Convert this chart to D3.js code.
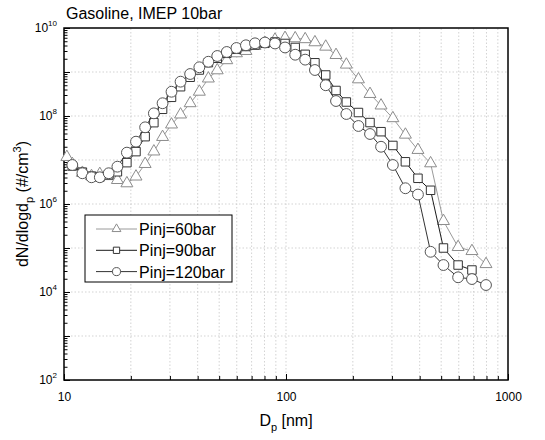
<!DOCTYPE html>
<html>
<head>
<meta charset="utf-8">
<script src="https://cdn.jsdelivr.net/npm/d3@7/dist/d3.min.js"></script>
<style>
  body { margin: 0; background: #fff; }
  svg { font-family: Arial, "Liberation Sans", sans-serif; }
</style>
</head>
<body>
<div id="chart"></div>
<script>
// particle diameter bins [nm]
const diameters = [10.3, 10.9, 12.1, 13.3, 14.5, 15.9, 17.4, 19.2, 21.1, 23.2, 25.4, 27.8, 30.5, 33.5,
  37.0, 40.7, 44.7, 49.0, 54.1, 59.8, 66.0, 72.5, 80.4, 89.2, 99.0, 110, 122, 135, 151, 168, 187,
  212, 239, 268, 303, 345, 393, 448, 512, 596, 688, 796];

// dN/dlogDp [#/cm3]
const pinj60 = [1.17e7, 8.1e6, 5.1e6, 4.3e6, 4.8e6, 4.3e6, 3.5e6, 2.95e6, 4.2e6, 8.1e6, 1.56e7, 3.33e7,
  6.4e7, 1.08e8, 1.95e8, 3.56e8, 7.1e8, 1.09e9, 1.85e9, 2.66e9, 3.0e9, 3.9e9, 4.56e9, 5.42e9, 5.93e9,
  5.83e9, 5.56e9, 4.73e9, 3.76e9, 2.43e9, 1.47e9, 6.8e8, 3.16e8, 1.73e8, 8.9e7, 3.76e7, 1.69e7, 8.4e6,
  4.1e5, 1.05e5, 8.5e4, 4.3e4];
const pinj90 = [null, 7.3e6, 5.3e6, 4.3e6, 4.1e6, 4.6e6, 5.4e6, 8.7e6, 1.55e7, 3.39e7, 7.05e7, 1.42e8,
  2.66e8, 4.63e8, 7.6e8, 1.11e9, 1.63e9, 2.05e9, 2.66e9, 3.28e9, 3.8e9, 4.11e9, 4.49e9, 4.81e9, 4.45e9,
  3.61e9, 2.52e9, 1.62e9, 8.55e8, 3.8e8, 2.08e8, 1.2e8, 7.1e7, 4.4e7, 2.14e7, 9.1e6, 3.84e6, 2.05e6,
  1.0e5, 4.1e4, 3.16e4, null];
const pinj120 = [null, 7.7e6, 5.0e6, 4.05e6, 4.05e6, 5.0e6, 7.05e6, 1.47e7, 2.61e7, 5.53e7, 1.15e8, 1.95e8,
  3.56e8, 6.03e8, 9.0e8, 1.28e9, 1.71e9, 2.31e9, 2.85e9, 3.51e9, 4.05e9, 4.49e9, 4.68e9, 4.45e9, 3.61e9,
  2.47e9, 1.91e9, 1.11e9, 5.0e8, 2.19e8, 1.11e8, 5.93e7, 3.9e7, 2.0e7, 7.7e6, 2.28e6, 1.64e6, 8.2e4,
  4.1e4, 2.16e4, 1.97e4, 1.44e4];

const seriesNames = ['Pinj=60bar', 'Pinj=90bar', 'Pinj=120bar'];
const xMajor = [10, 100, 1000];
const yExponents = [2, 3, 4, 5, 6, 7, 8, 9, 10];

const width = 545, height = 440;
const margin = { top: 28, right: 37, bottom: 60, left: 64 };

const svg = d3.select('#chart').append('svg')
  .attr('width', width)
  .attr('height', height);

const x = d3.scaleLog().domain([10, 1000]).range([margin.left, width - margin.right]);
const y = d3.scaleLog().domain([1e2, 1e10]).range([height - margin.bottom, margin.top]);

const xMinor = [];
[10, 100].forEach(b => { for (let k = 2; k <= 9; k++) xMinor.push(b * k); });
const yMajor = yExponents.map(e => Math.pow(10, e));
const yMinor = [];
yExponents.slice(0, -1).forEach(e => { for (let k = 2; k <= 9; k++) yMinor.push(k * Math.pow(10, e)); });

// grid
const grid = svg.append('g').attr('stroke', '#c8c8c8').attr('stroke-width', 0.8).attr('stroke-dasharray', '1.5,2');
grid.selectAll('line.vx')
  .data(xMinor.concat([100]))
  .join('line')
  .attr('x1', d => x(d)).attr('x2', d => x(d))
  .attr('y1', y.range()[0]).attr('y2', y.range()[1]);
grid.selectAll('line.hy')
  .data(yMajor.slice(1, -1))
  .join('line')
  .attr('y1', d => y(d)).attr('y2', d => y(d))
  .attr('x1', x.range()[0]).attr('x2', x.range()[1]);

// axes
const xAxisG = svg.append('g').attr('transform', `translate(0,${y.range()[0]})`);
xAxisG.call(d3.axisBottom(x).tickValues(xMajor).tickSize(-6).tickPadding(12).tickFormat(d3.format('d')));
xAxisG.append('g').call(d3.axisBottom(x).tickValues(xMinor).tickSize(-4).tickFormat(''));

const yAxisG = svg.append('g').attr('transform', `translate(${x.range()[0]},0)`);
yAxisG.call(d3.axisLeft(y).tickValues(yMajor).tickSize(-6).tickFormat(''));
yAxisG.append('g').call(d3.axisLeft(y).tickValues(yMinor).tickSize(-3.5).tickFormat(''));

svg.selectAll('.domain').remove();
svg.selectAll('.tick line').attr('stroke', '#000').attr('stroke-width', 1);
xAxisG.selectAll('.tick text').attr('font-size', 12).attr('fill', '#000');

// y labels with superscripts, only even powers
yAxisG.selectAll('.y-label')
  .data(yExponents.filter(e => e % 2 === 0))
  .join('text')
  .attr('class', 'y-label')
  .attr('x', -7)
  .attr('y', e => y(Math.pow(10, e)) + 4)
  .attr('text-anchor', 'end')
  .attr('font-size', 12)
  .attr('fill', '#000')
  .each(function (e) {
    const t = d3.select(this);
    t.append('tspan').text('10');
    t.append('tspan').attr('dy', -6).attr('font-size', 8).text(e);
  });

// frame
svg.append('rect')
  .attr('x', x.range()[0]).attr('y', y.range()[1])
  .attr('width', x.range()[1] - x.range()[0])
  .attr('height', y.range()[0] - y.range()[1])
  .attr('fill', 'none').attr('stroke', '#000').attr('stroke-width', 1.5);

// series
const styles = [
  { values: pinj60, line: '#9a9a9a', mark: '#8c8c8c', shape: d3.symbolTriangle, size: 62 },
  { values: pinj90, line: '#1a1a1a', mark: '#333', shape: d3.symbolSquare, size: 72 },
  { values: pinj120, line: '#333', mark: '#555', shape: d3.symbolCircle, size: 92 }
];

const line = d3.line()
  .defined(d => d.v != null)
  .x(d => x(d.d))
  .y(d => y(d.v));

styles.forEach((s, i) => {
  const pts = diameters.map((d, j) => ({ d, v: s.values[j] }));
  const g = svg.append('g');
  g.append('path')
    .datum(pts)
    .attr('fill', 'none')
    .attr('stroke', s.line)
    .attr('stroke-width', 1)
    .attr('d', line);
  g.selectAll('path.m')
    .data(pts.filter(p => p.v != null))
    .join('path')
    .attr('class', 'm')
    .attr('transform', p => `translate(${x(p.d)},${y(p.v)})`)
    .attr('d', d3.symbol(s.shape, s.size))
    .attr('fill', '#fff')
    .attr('stroke', s.mark)
    .attr('stroke-width', 1);
});

// legend
const lg = svg.append('g').attr('transform', 'translate(85,215)');
lg.append('rect').attr('width', 147).attr('height', 67)
  .attr('fill', '#fff').attr('stroke', '#000').attr('stroke-width', 1);
seriesNames.forEach((name, i) => {
  const s = styles[i];
  const row = lg.append('g').attr('transform', `translate(0,${14 + i * 21.3})`);
  row.append('line').attr('x1', 11).attr('x2', 52).attr('y1', 0).attr('y2', 0)
    .attr('stroke', s.line).attr('stroke-width', 1);
  row.append('path').attr('transform', 'translate(31.5,0)')
    .attr('d', d3.symbol(s.shape, s.size * 0.55))
    .attr('fill', '#fff').attr('stroke', s.mark).attr('stroke-width', 1);
  row.append('text').attr('x', 54).attr('y', 6)
    .attr('font-size', 16).attr('fill', '#000').text(name);
});

// titles
svg.append('text')
  .attr('x', 66).attr('y', 19)
  .attr('font-size', 16).attr('fill', '#000')
  .text('Gasoline, IMEP 10bar');

const xt = svg.append('text')
  .attr('x', (x.range()[0] + x.range()[1]) / 2)
  .attr('y', 426)
  .attr('text-anchor', 'middle')
  .attr('font-size', 16).attr('fill', '#000');
xt.append('tspan').text('D');
xt.append('tspan').attr('font-size', 11).attr('dy', 5).text('p');
xt.append('tspan').attr('dy', -5).text(' [nm]');

const yt = svg.append('text')
  .attr('transform', `translate(28,${(y.range()[0] + y.range()[1]) / 2}) rotate(-90)`)
  .attr('text-anchor', 'middle')
  .attr('font-size', 16).attr('fill', '#000');
yt.append('tspan').text('dN/dlogd');
yt.append('tspan').attr('font-size', 11).attr('dy', 5).text('p');
yt.append('tspan').attr('dy', -5).text(' (#/cm');
yt.append('tspan').attr('font-size', 11).attr('dy', -7).text('3');
yt.append('tspan').attr('dy', 7).text(')');
</script>
</body>
</html>
